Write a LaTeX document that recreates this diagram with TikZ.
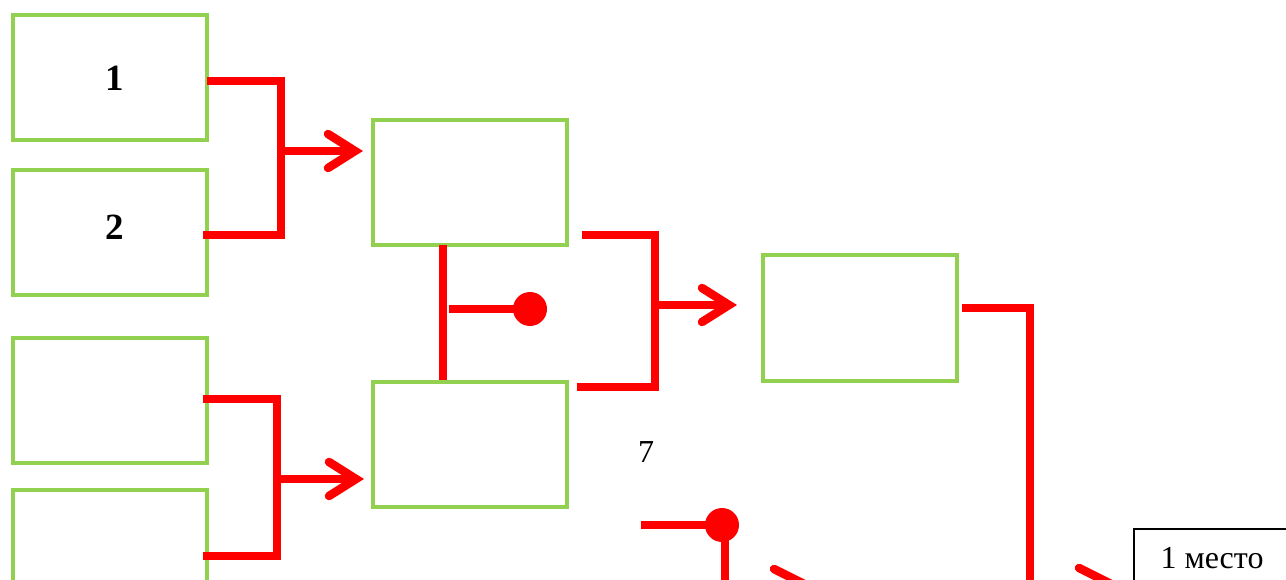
\documentclass[tikz,border=0pt]{standalone}
\usepackage{fontspec}
\usetikzlibrary{calc}
\setmainfont{Liberation Serif}
\definecolor{boxgreen}{RGB}{146,208,80}
\definecolor{lred}{RGB}{255,0,0}
\tikzset{
  gbox/.style={draw=boxgreen, line width=4pt, minimum width=194pt, minimum height=125pt, inner sep=0pt, outer sep=0pt},
  rl/.style={draw=lred, line width=8pt, line join=miter},
  chev/.style={draw=lred, line width=8.5pt, line cap=round, line join=miter},
  rdot/.style={circle, fill=lred, minimum size=34pt, inner sep=0pt},
  lbl/.style={font=\fontsize{37}{40}\selectfont\bfseries, inner sep=0pt},
  txt/.style={font=\fontsize{32}{36}\selectfont, inner sep=0pt}
}
\begin{document}
\begin{tikzpicture}[x=1pt,y=-1pt]
\useasboundingbox (0,0) rectangle (1286,580);
\clip (0,0) rectangle (1286,580);
% boxes
\node[gbox] (b1) at (110,77.5) {};
\node[gbox] (b2) at (110,232.5) {};
\node[gbox] (b3) at (110,400.5) {};
\node[gbox] (b4) at (110,552.5) {};
\node[gbox] (b5) at (470,182.5) {};
\node[gbox] (b6) at (470,444.5) {};
\node[gbox] (b7) at (860,318) {};
\node[draw=black, line width=1.6pt, minimum width=170pt, minimum height=90pt, inner sep=0pt] (place) at (1219,574) {};
\node[lbl] (t1) at (115,78) {1};
\node[lbl] (t2) at (115,227) {2};
\node[txt] (t7) at (646,452) {7};
\node[txt, anchor=base] (tplace) at (1212,568) {1 место};
% coordinates
\coordinate (p1a) at (207,81);
\coordinate (p1b) at (281,81);
\coordinate (p1c) at (281,235);
\coordinate (p1d) at (203,235);
\coordinate (a1s) at (281,151);
\coordinate (a1t) at (355,151);
\coordinate (p2a) at (203,399);
\coordinate (p2b) at (277,399);
\coordinate (p2c) at (277,556);
\coordinate (p2d) at (203,556);
\coordinate (a2s) at (277,479);
\coordinate (a2t) at (356,479);
\coordinate (m1) at (443,245);
\coordinate (m2) at (443,380);
\coordinate (m3) at (449,309);
\node[rdot] (d1) at (530,309) {};
\coordinate (p3a) at (582,235);
\coordinate (p3b) at (655,235);
\coordinate (p3c) at (655,387);
\coordinate (p3d) at (577,387);
\coordinate (a3s) at (655,305);
\coordinate (a3t) at (729,305);
\coordinate (p4a) at (962,308);
\coordinate (p4b) at (1030,308);
\coordinate (p4c) at (1030,595);
\coordinate (q1) at (641,525);
\node[rdot] (d2) at (722,525) {};
\coordinate (q2) at (725,525);
\coordinate (q3) at (725,595);
\coordinate (g1a) at (774,569);
\coordinate (g1b) at (810,587);
\coordinate (g2a) at (1079,568);
\coordinate (g2b) at (1115,586);
% connectors
\draw[rl] (p1a) -- (p1b) -- (p1c) -- (p1d);
\draw[rl] (a1s) -- (a1t);
\draw[chev] ($(a1t)+(-27,-17)$) -- (a1t) -- ($(a1t)+(-27,17)$);
\draw[rl] (p2a) -- (p2b) -- (p2c) -- (p2d);
\draw[rl] (a2s) -- (a2t);
\draw[chev] ($(a2t)+(-27,-17)$) -- (a2t) -- ($(a2t)+(-27,17)$);
\draw[rl] (m1) -- (m2);
\draw[rl] (m3) -- (d1.center);
\draw[rl] (p3a) -- (p3b) -- (p3c) -- (p3d);
\draw[rl] (a3s) -- (a3t);
\draw[chev] ($(a3t)+(-27,-17)$) -- (a3t) -- ($(a3t)+(-27,17)$);
\draw[rl] (p4a) -- (p4b) -- (p4c);
\draw[rl] (q1) -- (d2.center);
\draw[rl] (q2) -- (q3);
\draw[chev] (g1a) -- (g1b);
\draw[chev] (g2a) -- (g2b);
\end{tikzpicture}
\end{document}
